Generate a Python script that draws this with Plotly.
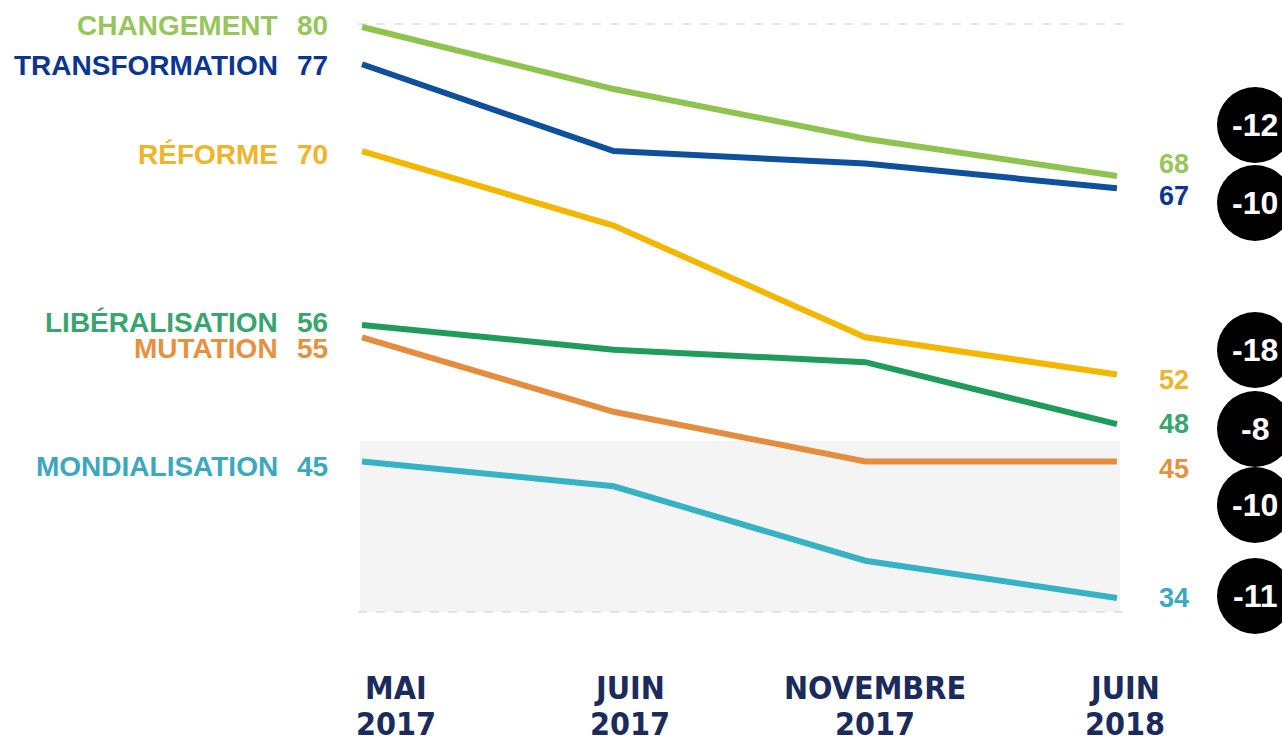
import plotly.graph_objects as go

# periods
months = ["MAI", "JUIN", "NOVEMBRE", "JUIN"]
years = ["2017", "2017", "2017", "2018"]

# series
names = ["CHANGEMENT", "TRANSFORMATION", "RÉFORME", "LIBÉRALISATION", "MUTATION", "MONDIALISATION"]
changement = [80, 75, 71, 68]
transformation = [77, 70, 69, 67]
reforme = [70, 64, 55, 52]
liberalisation = [56, 54, 53, 48]
mutation = [55, 49, 45, 45]
mondialisation = [45, 43, 37, 34]
series = [changement, transformation, reforme, liberalisation, mutation, mondialisation]

line_colors = ["#8fc350", "#0f509c", "#f3b700", "#1f9c5c", "#e58d3e", "#36b2c5"]
text_colors = ["#96c65a", "#0b3593", "#f0b42a", "#38a56e", "#e6913f", "#3aa8bf"]

# label nudges in px to avoid overlaps
left_shift = [1, -1, -3, 2, -11, -5]
right_shift = [12, -8, -5, 0, -8, 0]
# vertical centres of the delta circles (px from top of the page)
circle_px = [125, 203, 350, 429, 505, 596]

x = list(range(len(months)))

fig = go.Figure()

# plot area on the page: x 358..1127, y 24..612
H = 588
W = 769
fig.add_shape(type="rect", xref="paper", yref="paper", x0=2 / W, x1=762 / W, y0=0, y1=171 / H,
              fillcolor="#f4f4f4", line_width=0, layer="below")
for yy in [0, 1]:
    fig.add_shape(type="line", xref="paper", yref="paper", x0=0, x1=1, y0=yy, y1=yy,
                  line=dict(color="#cfcfcf", width=1, dash="dash"), layer="below")

for i, vals in enumerate(series):
    fig.add_trace(go.Scatter(x=x, y=vals, mode="lines", name=names[i],
                             line=dict(color=line_colors[i], width=6), hoverinfo="skip"))

label_font = "Liberation Sans, Arial, sans-serif"
for i, vals in enumerate(series):
    c = text_colors[i]
    fig.add_annotation(x=-78 / W, xref="paper", y=vals[0], yref="y", yshift=left_shift[i],
                       text="<b>%s</b>" % names[i], showarrow=False, xanchor="right", yanchor="middle",
                       font=dict(family=label_font, size=28, color=c))
    fig.add_annotation(x=-28 / W, xref="paper", y=vals[0], yref="y", yshift=left_shift[i],
                       text="<b>%d</b>" % vals[0], showarrow=False, xanchor="right", yanchor="middle",
                       font=dict(family=label_font, size=28, color=c))
    fig.add_annotation(x=799 / W, xref="paper", y=vals[-1], yref="y", yshift=right_shift[i],
                       text="<b>%d</b>" % vals[-1], showarrow=False, xanchor="left", yanchor="middle",
                       font=dict(family=label_font, size=27, color=c))
    # delta circle
    cy = (612 - circle_px[i]) / H
    cx = (1255 - 358) / W
    fig.add_shape(type="circle", xref="paper", yref="paper",
                  x0=cx - 38 / W, x1=cx + 38 / W, y0=cy - 38 / H, y1=cy + 38 / H,
                  fillcolor="black", line=dict(color="black", width=0))
    fig.add_annotation(x=cx, xref="paper", y=cy, yref="paper", text="<b>%d</b>" % (vals[-1] - vals[0]),
                       showarrow=False, xanchor="center", yanchor="middle",
                       font=dict(family=label_font, size=32, color="white"))

# period labels
narrow = "Liberation Sans Narrow, Arial Narrow, DejaVu Sans Condensed, sans-serif"
tick_shift = [34, 16, 10, 8]
for i in x:
    for txt, py in [(months[i], 688), (years[i], 724)]:
        fig.add_annotation(x=i, xref="x", y=(612 - py) / H, yref="paper", xshift=tick_shift[i],
                           text="<b>%s</b>" % txt, showarrow=False, xanchor="center", yanchor="middle",
                           font=dict(family=narrow, size=32, color="#1b2b5b"))

fig.update_xaxes(visible=False, range=[-0.016, 3.04])
fig.update_yaxes(visible=False, range=[32.87, 80.24])
fig.update_layout(width=1282, height=742, showlegend=False,
                  margin=dict(l=358, r=155, t=24, b=130),
                  plot_bgcolor="rgba(0,0,0,0)", paper_bgcolor="white")

fig.write_html("out.html", config={"displayModeBar": False},
               post_script="document.body.style.margin='0';document.body.style.overflow='hidden';")
